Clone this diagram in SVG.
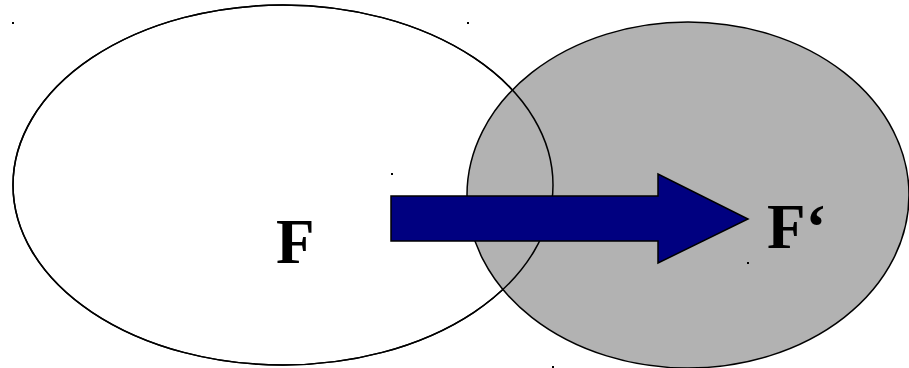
<svg xmlns="http://www.w3.org/2000/svg" width="909" height="368" viewBox="0 0 909 368">
<style>
.outline{stroke:#000;stroke-width:1.5}
.lbl{font-family:"Liberation Serif","Times New Roman",serif;font-weight:bold;font-size:63px;fill:#000}
.dot{fill:#000}
</style>
<rect width="909" height="368" fill="#fff"/>
<g id="setF">
<ellipse cx="283" cy="185" rx="270" ry="180" fill="#fff" class="outline"/>
</g>
<g id="setFprime">
<ellipse cx="688" cy="195" rx="221" ry="173" fill="#b2b2b2" class="outline"/>
</g>
<g id="setF-outline">
<ellipse cx="283" cy="185" rx="270" ry="180" fill="none" class="outline"/>
</g>
<g id="connectors">
<polygon points="391,196 658,196 658,174 748,219 658,263 658,241 391,241" fill="#000080" class="outline" stroke-linejoin="miter"/>
</g>
<g id="labelF">
<text x="276" y="263" class="lbl">F</text>
</g>
<g id="labelFprime">
<text x="767" y="248" class="lbl">F‘</text>
</g>
<g id="dots">
<rect x="12" y="22" width="2" height="2" class="dot"/>
<rect x="467" y="22" width="2" height="2" class="dot"/>
<rect x="391" y="173" width="2" height="2" class="dot"/>
<rect x="747" y="262" width="2" height="2" class="dot"/>
<rect x="552" y="366" width="2" height="2" class="dot"/>
</g>
</svg>
